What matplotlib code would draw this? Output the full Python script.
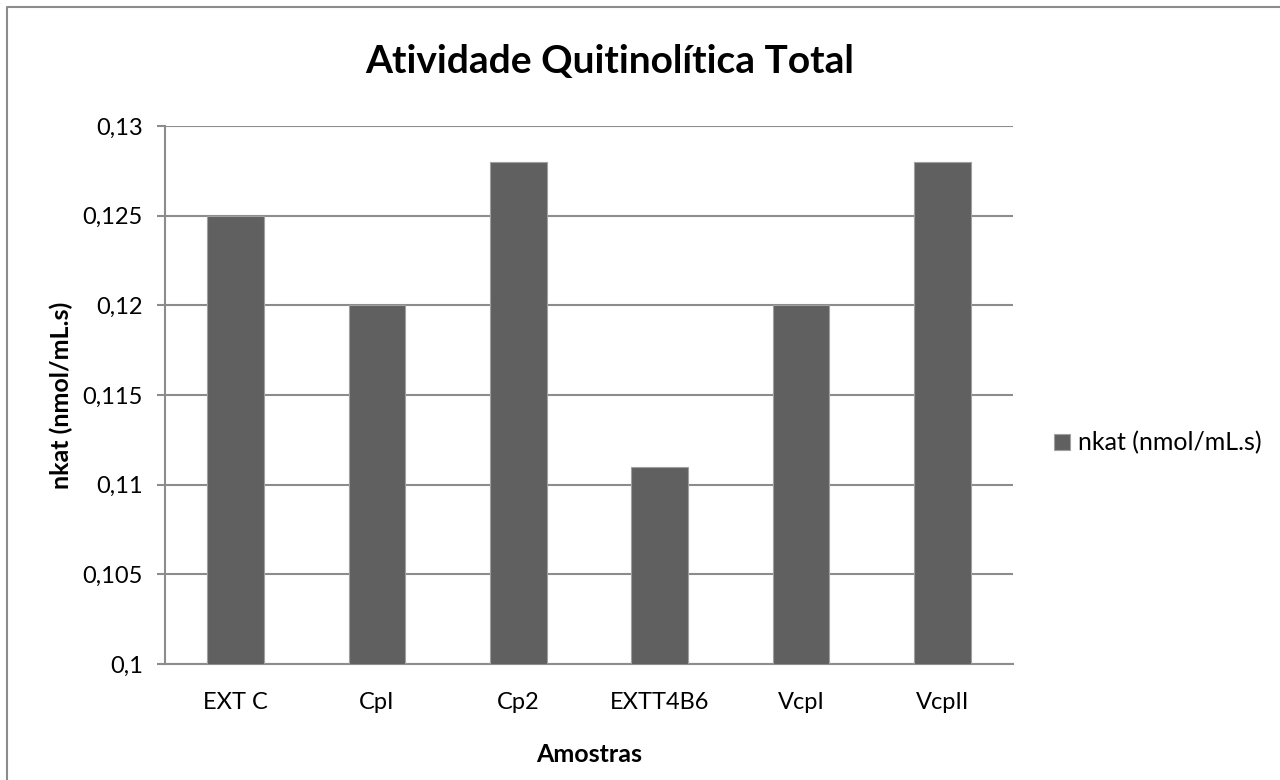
import matplotlib.pyplot as plt
from matplotlib.lines import Line2D
from matplotlib.ticker import FuncFormatter

# Dados
amostras = ['EXT C', 'CpI', 'Cp2', 'EXTT4B6', 'VcpI', 'VcpII']
nkat = [0.125, 0.12, 0.128, 0.111, 0.12, 0.128]
ticks_y = [0.1, 0.105, 0.11, 0.115, 0.12, 0.125, 0.13]

plt.rcParams['font.family'] = ['Lato', 'DejaVu Sans']

fig = plt.figure(figsize=(12.8, 7.8), dpi=100)
ax = fig.add_axes([0.1289, 0.1487, 0.6625, 0.6898])

# Moldura do gráfico (bordas esquerda e superior)
moldura_x = [7 / 1280, 7 / 1280, 1.0]
moldura_y = [0.0, 1 - 7 / 780, 1 - 7 / 780]
fig.lines.append(Line2D(moldura_x, moldura_y, transform=fig.transFigure,
                        color='#8c8c8c', linewidth=1.5))

x = range(len(amostras))
ax.bar(x, nkat, width=0.4, color='#606060', edgecolor='#a0a0a0', linewidth=0.8,
       label='nkat (nmol/mL.s)', zorder=3)

ax.set_ylim(0.1, 0.13)
ax.set_xlim(-0.5, len(amostras) - 0.5)
ax.set_yticks(ticks_y)
ax.yaxis.set_major_formatter(FuncFormatter(lambda v, p: ('%g' % round(v, 3)).replace('.', ',')))
ax.set_xticks(list(x))
ax.set_xticklabels(amostras)
ax.grid(axis='y', color='#8c8c8c', linewidth=1.5, zorder=0)

for lado in ['top', 'right']:
    ax.spines[lado].set_visible(False)
for lado in ['left', 'bottom']:
    ax.spines[lado].set_color('#8c8c8c')
    ax.spines[lado].set_linewidth(1.5)

ax.tick_params(axis='y', length=6, width=1.5, color='#8c8c8c', labelsize=17, pad=10)
ax.tick_params(axis='x', length=0, labelsize=17, pad=20)

fig.text(610 / 1280, 1 - 62 / 780, 'Atividade Quitinolítica Total', fontsize=28,
         fontweight='bold', ha='center', va='center')
ax.set_xlabel('Amostras', fontsize=18, fontweight='bold', labelpad=22)
ax.set_ylabel('nkat (nmol/mL.s)', fontsize=18, fontweight='bold', labelpad=7)

ax.legend(loc='center left', bbox_to_anchor=(1054 / 1280, 1 - 443 / 780),
          bbox_transform=fig.transFigure, frameon=False, fontsize=18,
          handlelength=0.64, handleheight=0.64, handletextpad=0.3,
          borderpad=0, borderaxespad=0)

fig.savefig('out.png', dpi=100)
